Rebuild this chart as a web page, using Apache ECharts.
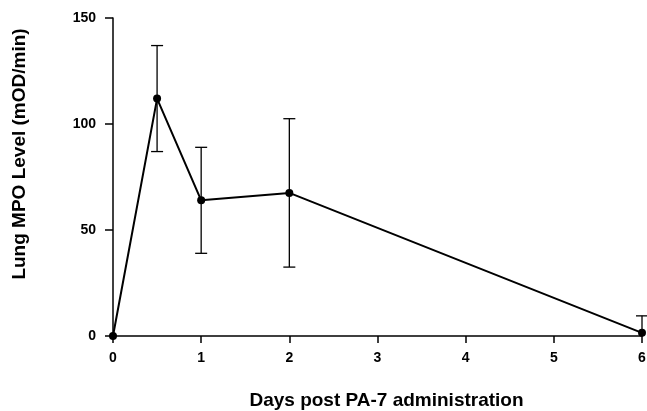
<!doctype html>
<html>
<head>
    <meta charset="utf-8">
    <title>Lung MPO</title>
    <script src="https://cdn.jsdelivr.net/npm/echarts@6/dist/echarts.min.js"></script>
    <style>
        html, body { margin: 0; padding: 0; background: #fff; }
        #main { width: 647px; height: 411px; }
    </style>
</head>
<body>
    <div id="main"></div>
<script type="text/javascript">
    // 数据：天数、MPO 水平、误差（下/上）
    var days = [0, 0.5, 1, 2, 6];
    var mpo = [0, 112, 64, 67.5, 1.5];
    var errLow = [0, 25, 25, 35, 0];
    var errHigh = [0, 25, 25, 35, 8];
    var xTicks = [0, 1, 2, 3, 4, 5, 6];
    var yTicks = [0, 50, 100, 150];

    var lineData = days.map(function (d, i) { return [d, mpo[i]]; });
    var errData = days.map(function (d, i) {
        return [d, mpo[i] - errLow[i], mpo[i] + errHigh[i], mpo[i]];
    });

    var font = '"Liberation Sans", Arial, sans-serif';
    var myChart = echarts.init(document.getElementById('main'));

    var option = {
        animation: false,
        grid: { left: 113, right: 5, top: 18, bottom: 75, outerBoundsMode: 'none', containLabel: false },
        xAxis: {
            type: 'value',
            min: 0, max: 6, interval: 1,
            name: 'Days post PA-7 administration',
            nameLocation: 'middle',
            nameGap: 55,
            nameTextStyle: { color: '#000', fontFamily: font, fontWeight: 'bold', fontSize: 19, padding: [0, 0, 0, 18] },
            axisLine: { lineStyle: { color: '#000', width: 1.5 } },
            axisTick: { show: true, length: 7, inside: false, lineStyle: { color: '#000', width: 1.5 } },
            axisLabel: { color: '#000', fontFamily: font, fontWeight: 'bold', fontSize: 14, margin: 15,
                formatter: function (v) { return xTicks.indexOf(v) >= 0 ? String(v) : ''; } },
            splitLine: { show: false }
        },
        yAxis: {
            type: 'value',
            min: 0, max: 150, interval: 50,
            name: 'Lung MPO Level (mOD/min)',
            nameLocation: 'middle',
            nameGap: 84,
            nameRotate: 90,
            nameTextStyle: { color: '#000', fontFamily: font, fontWeight: 'bold', fontSize: 19, padding: [0, 0, 0, 46] },
            axisLine: { show: true, lineStyle: { color: '#000', width: 1.5 } },
            axisTick: { show: true, length: 8, lineStyle: { color: '#000', width: 1.5 } },
            axisLabel: { color: '#000', fontFamily: font, fontWeight: 'bold', fontSize: 14, margin: 17,
                formatter: function (v) { return yTicks.indexOf(v) >= 0 ? String(v) : ''; } },
            splitLine: { show: false }
        },
        series: [
            {
                type: 'custom',
                data: errData,
                clip: false,
                z: 2,
                renderItem: function (params, api) {
                    var x = api.value(0);
                    var lo = api.coord([x, api.value(1)]);
                    var hi = api.coord([x, api.value(2)]);
                    var mid = api.coord([x, api.value(3)]);
                    var w = 6;
                    var children = [];
                    var st = { stroke: '#000', lineWidth: 1.3 };
                    if (hi[1] < mid[1] - 0.5) {
                        children.push({ type: 'line', shape: { x1: mid[0], y1: mid[1], x2: hi[0], y2: hi[1] }, style: st });
                        children.push({ type: 'line', shape: { x1: hi[0] - w, y1: hi[1], x2: hi[0] + w, y2: hi[1] }, style: st });
                    }
                    if (lo[1] > mid[1] + 0.5) {
                        children.push({ type: 'line', shape: { x1: mid[0], y1: mid[1], x2: lo[0], y2: lo[1] }, style: st });
                        children.push({ type: 'line', shape: { x1: lo[0] - w, y1: lo[1], x2: lo[0] + w, y2: lo[1] }, style: st });
                    }
                    return { type: 'group', children: children };
                }
            },
            {
                type: 'line',
                data: lineData,
                symbol: 'circle',
                symbolSize: 8,
                clip: false,
                z: 3,
                lineStyle: { color: '#000', width: 2 },
                itemStyle: { color: '#000' }
            }
        ]
    };

    myChart.setOption(option);
</script>
</body>
</html>
